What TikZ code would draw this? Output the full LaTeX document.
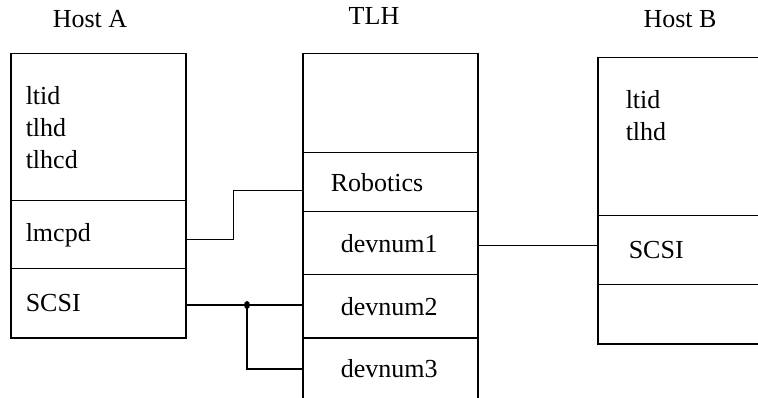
\documentclass[tikz,border=0pt]{standalone}
\usepackage{fontspec}
\setmainfont{Liberation Serif}
\begin{document}
\begin{tikzpicture}[x=1pt,y=-1pt,line width=1.5pt,
	every node/.style={font=\fontsize{26}{32}\selectfont,inner ysep=0pt},
	sect/.style={draw=black,rectangle,anchor=north west,align=left}]

			\useasboundingbox (0,0) rectangle (758,398);

			% titles
			\node (tA) at (90,19) {Host A};
			\node (tT) at (374,16) {TLH};
			\node (tB) at (680,19) {Host B};

			% Host A
			\node[sect,minimum height=147pt,text width=145pt,inner xsep=15pt] (hAd) at (10,53) {ltid\\tlhd\\tlhcd};
			\node[sect,minimum height=68pt,text width=145pt,inner xsep=15pt] (lmcpd) at (10,200) {lmcpd};
			\node[sect,minimum height=69pt,text width=145pt,inner xsep=15pt] (scsiA) at (10,268) {SCSI};

			% TLH
			\node[sect,minimum height=99pt,text width=119pt,inner xsep=28pt] (tlhTop) at (302,53) {};
			\node[sect,minimum height=59pt,text width=119pt,inner xsep=28pt] (robotics) at (302,152) {Robotics};
			\node[sect,minimum height=63pt,text width=99pt,inner xsep=38pt] (devnum1) at (302,211) {devnum1};
			\node[sect,minimum height=63pt,text width=99pt,inner xsep=38pt] (devnum2) at (302,274) {devnum2};
			\node[sect,minimum height=62pt,text width=99pt,inner xsep=38pt] (devnum3) at (302,337) {devnum3};

			% Host B
			\node[sect,minimum height=158pt,text width=138pt,inner xsep=31pt] (hBd) at (597,57) {};
			\node[anchor=north west,align=left,inner xsep=0pt] (hBtxt) at ([xshift=28pt,yshift=-33pt]hBd.north west) {ltid\\tlhd};
			\node[sect,minimum height=69pt,text width=138pt,inner xsep=31pt] (scsiB) at (597,215) {SCSI};
			\node[sect,minimum height=59pt,text width=138pt,inner xsep=31pt] (hBbot) at (597,284) {};

			% links
			\draw ([yshift=-5pt]lmcpd.east) -- ++(47,0) |- ([yshift=-8.5pt]robotics.west);
			\coordinate (tap) at (247,305);
			\draw (scsiA.east |- tap) -- (tap -| devnum2.west);
			\draw (tap) |- (devnum3.west);
			\fill (tap) ellipse (3pt and 4pt);
			\draw ([yshift=-2.5pt]devnum1.east) -- ([yshift=-2.5pt]devnum1.east -| scsiB.west);
		\end{tikzpicture}
\end{document}
